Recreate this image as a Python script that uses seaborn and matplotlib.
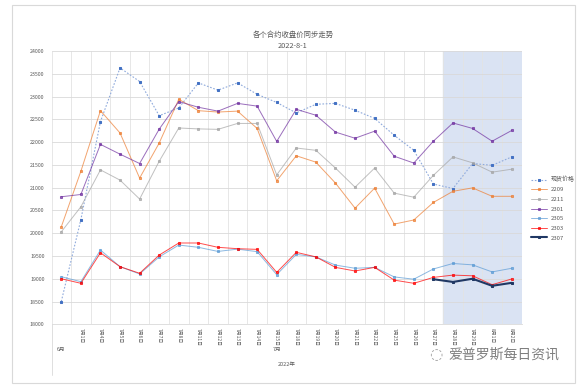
import numpy as np
import pandas as pd
import matplotlib
matplotlib.use("Agg")
import matplotlib.pyplot as plt
import matplotlib.transforms as mtransforms
from matplotlib.patches import Rectangle
import seaborn as sns

# data
day_labels = ["", "7月1日", "7月4日", "7月5日", "7月6日", "7月7日", "7月8日", "7月11日",
              "7月12日", "7月13日", "7月14日", "7月15日", "7月18日", "7月19日", "7月20日",
              "7月21日", "7月22日", "7月25日", "7月26日", "7月27日", "7月28日", "7月29日",
              "8月1日", "8月2日"]
month_labels = ["6月", "7月", "8月"]
month_spans = [(0, 0), (1, 21), (22, 23)]
year_label = "2022年"

spot = [18500, 20300, 22450, 23630, 23330, 22580, 22750, 23300, 23140, 23300, 23050, 22870,
        22640, 22830, 22850, 22700, 22520, 22150, 21820, 21080, 20980, 21530, 21490, 21675]
c2209 = [20140, 21360, 22690, 22200, 21210, 21980, 22940, 22690, 22660, 22680, 22300, 21150,
         21700, 21560, 21100, 20550, 20990, 20200, 20290, 20675, 20920, 20995, 20810, 20810]
c2211 = [20030, 20580, 21390, 21165, 20750, 21580, 22310, 22290, 22280, 22410, 22410, 21280,
         21870, 21820, 21430, 21010, 21430, 20880, 20790, 21270, 21675, 21545, 21340, 21405]
c2301 = [20800, 20850, 21950, 21735, 21530, 22285, 22890, 22765, 22680, 22850, 22790, 22015,
         22720, 22590, 22220, 22085, 22240, 21690, 21540, 22020, 22420, 22300, 22020, 22255]
c2305 = [19045, 18935, 19630, 19265, 19105, 19480, 19740, 19690, 19600, 19650, 19595, 19090,
         19535, 19480, 19300, 19230, 19250, 19040, 18990, 19215, 19335, 19305, 19150, 19230]
c2303 = [19000, 18900, 19570, 19265, 19120, 19520, 19785, 19785, 19690, 19660, 19645, 19140,
         19580, 19480, 19250, 19170, 19250, 18970, 18900, 19030, 19080, 19065, 18870, 18995]
c2307 = [18990, 18930, 19000, 18845, 18910]
c2307_start = 19

series_names = ["现货价格", "2209", "2211", "2301", "2305", "2303", "2307"]
series_colors = ["#4472C4", "#ED7D31", "#A5A5A5", "#7030A0", "#5B9BD5", "#FF0000", "#203864"]

sns.set_style("white")
plt.rcParams["font.family"] = ["Noto Sans CJK SC", "DejaVu Sans"]

fig = plt.figure(figsize=(5.87, 3.91), dpi=100)
ax = fig.add_axes([51.5 / 587, 1 - 324.3 / 391, 470 / 587, 273.3 / 391])

# forecast shading
ax.axvspan(19.5, 23.5, color="#DAE3F3", zorder=0)

n = len(spot)
x = np.arange(n)
all_series = [spot, c2209, c2211, c2301, c2305, c2303]
for i, vals in enumerate(all_series):
    df = pd.DataFrame({"x": x, "y": vals})
    if i == 0:
        sns.lineplot(data=df, x="x", y="y", ax=ax, color="#8FAADC", linestyle=(0, (1.5, 1.5)),
                     linewidth=0.8, marker="s", markersize=1.8, markerfacecolor=series_colors[0],
                     markeredgecolor=series_colors[0], label=series_names[0], zorder=3)
    else:
        sns.lineplot(data=df, x="x", y="y", ax=ax, color=series_colors[i], alpha=0.7,
                     linewidth=0.7, marker="s", markersize=1.8, markerfacecolor=series_colors[i],
                     markeredgecolor=series_colors[i], label=series_names[i], zorder=3)
df7 = pd.DataFrame({"x": np.arange(c2307_start, c2307_start + len(c2307)), "y": c2307})
sns.lineplot(data=df7, x="x", y="y", ax=ax, color=series_colors[6], linewidth=1.5,
             marker="s", markersize=1.8, markeredgecolor=series_colors[6], label=series_names[6],
             zorder=4)

ax.set_xlim(-0.5, n - 0.5)
ax.set_ylim(18000, 24000)
ax.set_yticks(np.arange(18000, 24001, 500))
ax.yaxis.grid(True, color="#D9D9D9", linewidth=0.6)
ax.set_xticks(np.arange(-0.5, n, 1), minor=True)
ax.xaxis.grid(True, which="minor", color="#E3E3E3", linewidth=0.6)
ax.set_xticks(x)
ax.set_xticklabels(day_labels, rotation=-90, fontsize=3.5, color="#595959", va="top")
ax.tick_params(axis="x", which="both", length=0, pad=2.5)
ax.tick_params(axis="y", length=0, labelsize=3.8, labelcolor="#595959", pad=5)
ax.set_xlabel("")
ax.set_ylabel("")
for s in ["top", "right", "left"]:
    ax.spines[s].set_visible(False)
ax.spines["bottom"].set_color("#D9D9D9")
ax.spines["bottom"].set_linewidth(0.6)

# multi-level category labels
trans = mtransforms.blended_transform_factory(ax.transData, fig.transFigure)
for lab, (a, b) in zip(month_labels, month_spans):
    if lab == "8月":
        continue
    ax.text((a + b) / 2, 1 - 349 / 391, lab, transform=trans, ha="center", va="center",
            fontsize=4, color="#595959")
ax.text((n - 1) / 2, 1 - 364 / 391, year_label, transform=trans, ha="center", va="center",
        fontsize=4, color="#595959")
ax.plot([-0.5, -0.5], [1 - 324.3 / 391, 1 - 375 / 391], transform=trans, color="#D9D9D9",
        linewidth=0.6, clip_on=False)

ax.legend_.remove()
handles, labels = ax.get_legend_handles_labels()
fig.legend(handles, labels, loc="upper left", bbox_to_anchor=(526 / 587, 1 - 171 / 391),
           frameon=False, fontsize=4.3, labelcolor="#595959", handlelength=2.6,
           labelspacing=0.75, handletextpad=0.6)

fig.text(293 / 587, 1 - 35 / 391, "各个合约收盘价同步走势", ha="center", va="center",
         fontsize=5.3, color="#595959")
fig.text(293 / 587, 1 - 46 / 391, "2022-8-1", ha="center", va="center",
         fontsize=5.3, color="#595959")

# watermark
fig.text(448 / 587, 1 - 355 / 391, "爱普罗斯每日资讯", ha="left", va="center",
         fontsize=10, color="#7F7F7F")
fig.text(436 / 587, 1 - 355 / 391, "◌", ha="center", va="center", fontsize=11,
         color="#9F9F9F", family=["DejaVu Sans"])

# outer chart frame
fig.patches.append(Rectangle((12 / 587, 1 - 383 / 391), 563 / 587, 378 / 391,
                             transform=fig.transFigure, fill=False, edgecolor="#D9D9D9",
                             linewidth=0.8))

fig.savefig("out.png", dpi=100)
